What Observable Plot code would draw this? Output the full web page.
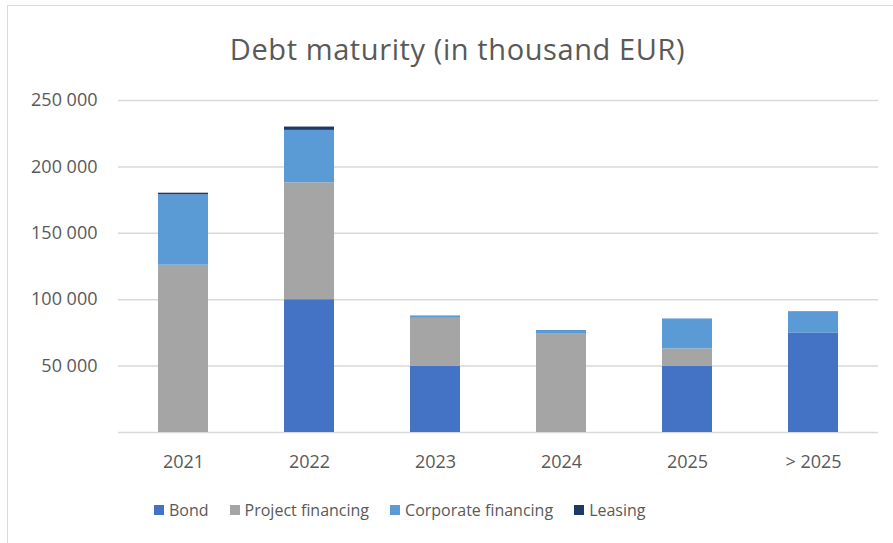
<!DOCTYPE html>
<html>
<head>
<meta charset="utf-8">
<script src="https://cdn.jsdelivr.net/npm/d3@7"></script>
<script src="https://cdn.jsdelivr.net/npm/@observablehq/plot@0.6"></script>
<style>
  html, body { margin: 0; padding: 0; background: #fff; }
  #wrap { position: relative; width: 893px; height: 543px; overflow: hidden; font-family: "Open Sans", sans-serif; }
  #frame { position: absolute; left: 7px; top: 5px; width: 900px; height: 560px; border-left: 1.5px solid #d9d9d9; border-top: 1.5px solid #d9d9d9; box-sizing: border-box; }
  #title { position: absolute; left: 0; width: 915px; top: 29px; line-height: 40px; text-align: center; font-size: 29px; letter-spacing: 0.6px; color: #595959; white-space: nowrap; }
  #legend { position: absolute; left: 154px; top: 498px; display: flex; font-size: 16px; line-height: 24px; color: #595959; white-space: nowrap; }
  .item { display: flex; align-items: center; margin-right: 21px; }
  .sw { width: 10px; height: 10px; margin-right: 5px; }
  #chart { position: absolute; left: 0; top: 0; }
</style>
</head>
<body>
<div id="wrap">
  <div id="frame"></div>
  <div id="chart"></div>
  <div id="title">Debt maturity (in thousand EUR)</div>
  <div id="legend"></div>
</div>
<script>
const categories = ["2021", "2022", "2023", "2024", "2025", "> 2025"];
const series = ["Bond", "Project financing", "Corporate financing", "Leasing"];
const colors = ["#4472C4", "#A5A5A5", "#5B9BD5", "#203864"];
const bond = [0, 100000, 50000, 0, 50000, 75000];
const project = [126000, 88000, 36000, 74500, 13000, 0];
const corporate = [53000, 39500, 1800, 2300, 22500, 16000];
const leasing = [1200, 2500, 0, 0, 0, 0];
const yTicks = [0, 50000, 100000, 150000, 200000, 250000];

const valuesBySeries = [bond, project, corporate, leasing];
const data = [];
series.forEach((s, si) => {
  categories.forEach((c, ci) => {
    data.push({category: c, series: s, value: valuesBySeries[si][ci]});
  });
});

const fmt = d => d === 0 ? "" : d3.format(",")(d).replace(/,/g, " ");

const chart = Plot.plot({
  width: 893,
  height: 543,
  marginTop: 100,
  marginBottom: 111,
  marginLeft: 118,
  marginRight: 15,
  style: {fontFamily: "Open Sans, sans-serif", fontSize: "18px", color: "#595959", background: "transparent"},
  x: {domain: categories, paddingInner: 0.605, paddingOuter: 0.3025, label: null, tickSize: 0, tickPadding: 23},
  y: {domain: [0, 250000], ticks: yTicks, tickFormat: fmt, label: null, tickSize: 0, tickPadding: 21},
  color: {domain: series, range: colors},
  marks: [
    Plot.ruleY(yTicks, {stroke: "#d9d9d9", strokeWidth: 1.5}),
    Plot.barY(data, {x: "category", y: "value", fill: "series", order: series})
  ]
});
document.getElementById("chart").appendChild(chart);

const legend = document.getElementById("legend");
series.forEach((s, i) => {
  const item = document.createElement("div");
  item.className = "item";
  const sw = document.createElement("div");
  sw.className = "sw";
  sw.style.background = colors[i];
  const t = document.createElement("span");
  t.textContent = s;
  item.appendChild(sw);
  item.appendChild(t);
  legend.appendChild(item);
});
</script>
</body>
</html>
